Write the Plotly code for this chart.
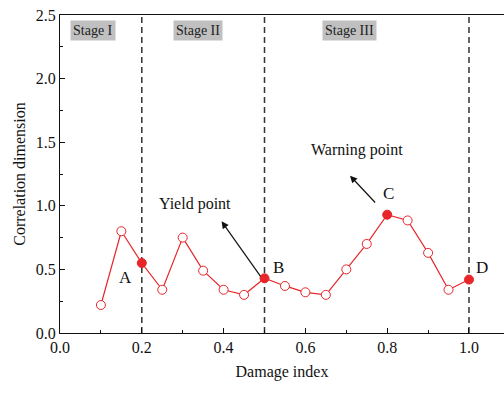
import plotly.graph_objects as go

# Damage index and correlation dimension
damage = [0.10, 0.15, 0.20, 0.25, 0.30, 0.35, 0.40, 0.45, 0.50, 0.55,
          0.60, 0.65, 0.70, 0.75, 0.80, 0.85, 0.90, 0.95, 1.00]
corr_dim = [0.22, 0.80, 0.55, 0.34, 0.75, 0.49, 0.34, 0.30, 0.43, 0.37,
            0.32, 0.30, 0.50, 0.70, 0.93, 0.885, 0.63, 0.34, 0.42]

# Characteristic points (filled markers)
key_labels = ["A", "B", "C", "D"]
key_damage = [0.20, 0.50, 0.80, 1.00]

# Stage boundaries and names
stage_bounds = [0.2, 0.5, 1.0]
stage_names = ["Stage I", "Stage II", "Stage III"]
stage_x = [0.081, 0.337, 0.707]

RED = "#e8262a"
FONT = "Liberation Serif"
INK = "#111111"

fills = [RED if d in key_damage else "white" for d in damage]

fig = go.Figure()
fig.add_trace(go.Scatter(
    x=damage, y=corr_dim, mode="lines+markers",
    line=dict(color=RED, width=1.2),
    marker=dict(symbol="circle", size=9, color=fills,
                line=dict(color=RED, width=1)),
    showlegend=False, cliponaxis=False,
))

for xb in stage_bounds:
    fig.add_shape(type="line", x0=xb, x1=xb, y0=0, y1=2.5, xref="x", yref="y",
                  line=dict(color="#333333", width=1.5, dash="6px,4px"), layer="below")

annotations = []
for name, sx in zip(stage_names, stage_x):
    annotations.append(dict(x=sx, y=2.375, xref="x", yref="y", text=name, showarrow=False,
                            bgcolor="#c0c0c0", borderpad=2,
                            font=dict(family=FONT, size=14, color="#222")))

# Letter labels placed beside their points
letter_pos = {"A": (0.161, 0.436), "B": (0.535, 0.515), "C": (0.804, 1.096), "D": (1.032, 0.515)}
for lab in key_labels:
    lx, ly = letter_pos[lab]
    annotations.append(dict(x=lx, y=ly, xref="x", yref="y", text=lab, showarrow=False,
                            font=dict(family=FONT, size=17, color=INK)))

annotations.append(dict(x=0.330, y=1.017, xref="x", yref="y", text="Yield point", showarrow=False,
                        font=dict(family=FONT, size=16, color=INK)))
annotations.append(dict(x=0.726, y=1.436, xref="x", yref="y", text="Warning point", showarrow=False,
                        font=dict(family=FONT, size=16, color=INK)))

# Arrows
annotations.append(dict(x=0.395, y=0.878, ax=0.493, ay=0.434, xref="x", yref="y",
                        axref="x", ayref="y", text="", showarrow=True, arrowhead=2,
                        arrowsize=1.2, arrowwidth=1.2, arrowcolor=INK))
annotations.append(dict(x=0.709, y=1.237, ax=0.774, ay=1.014, xref="x", yref="y",
                        axref="x", ayref="y", text="", showarrow=True, arrowhead=2,
                        arrowsize=1.2, arrowwidth=1.2, arrowcolor=INK))

fig.update_layout(
    width=504, height=393,
    margin=dict(l=60, r=0, t=15, b=60),
    paper_bgcolor="white", plot_bgcolor="white",
    font=dict(family=FONT, size=15, color=INK),
    annotations=annotations,
    xaxis=dict(
        range=[0, 1.0856], tickvals=[0, 0.2, 0.4, 0.6, 0.8, 1.0],
        ticktext=["0.0", "0.2", "0.4", "0.6", "0.8", "1.0"],
        ticks="inside", ticklen=5, tickwidth=1, tickcolor=INK,
        minor=dict(tickvals=[0.1, 0.3, 0.5, 0.7, 0.9], ticks="inside", ticklen=3, tickcolor=INK),
        showline=True, linecolor=INK, linewidth=1.2, mirror=True,
        showgrid=False, zeroline=False,
        title=dict(text="Damage index", font=dict(size=16), standoff=10),
        tickfont=dict(size=16),
    ),
    yaxis=dict(
        range=[0, 2.5], tickvals=[0, 0.5, 1.0, 1.5, 2.0, 2.5],
        ticktext=["0.0", "0.5", "1.0", "1.5", "2.0", "2.5"],
        ticks="inside", ticklen=5, tickwidth=1, tickcolor=INK,
        minor=dict(tickvals=[0.25, 0.75, 1.25, 1.75, 2.25], ticks="inside", ticklen=3, tickcolor=INK),
        showline=True, linecolor=INK, linewidth=1.2, mirror=False,
        showgrid=False, zeroline=False,
        title=dict(text="Correlation dimension", font=dict(size=16), standoff=6),
        tickfont=dict(size=16),
    ),
)

fig.write_html("out.html")
